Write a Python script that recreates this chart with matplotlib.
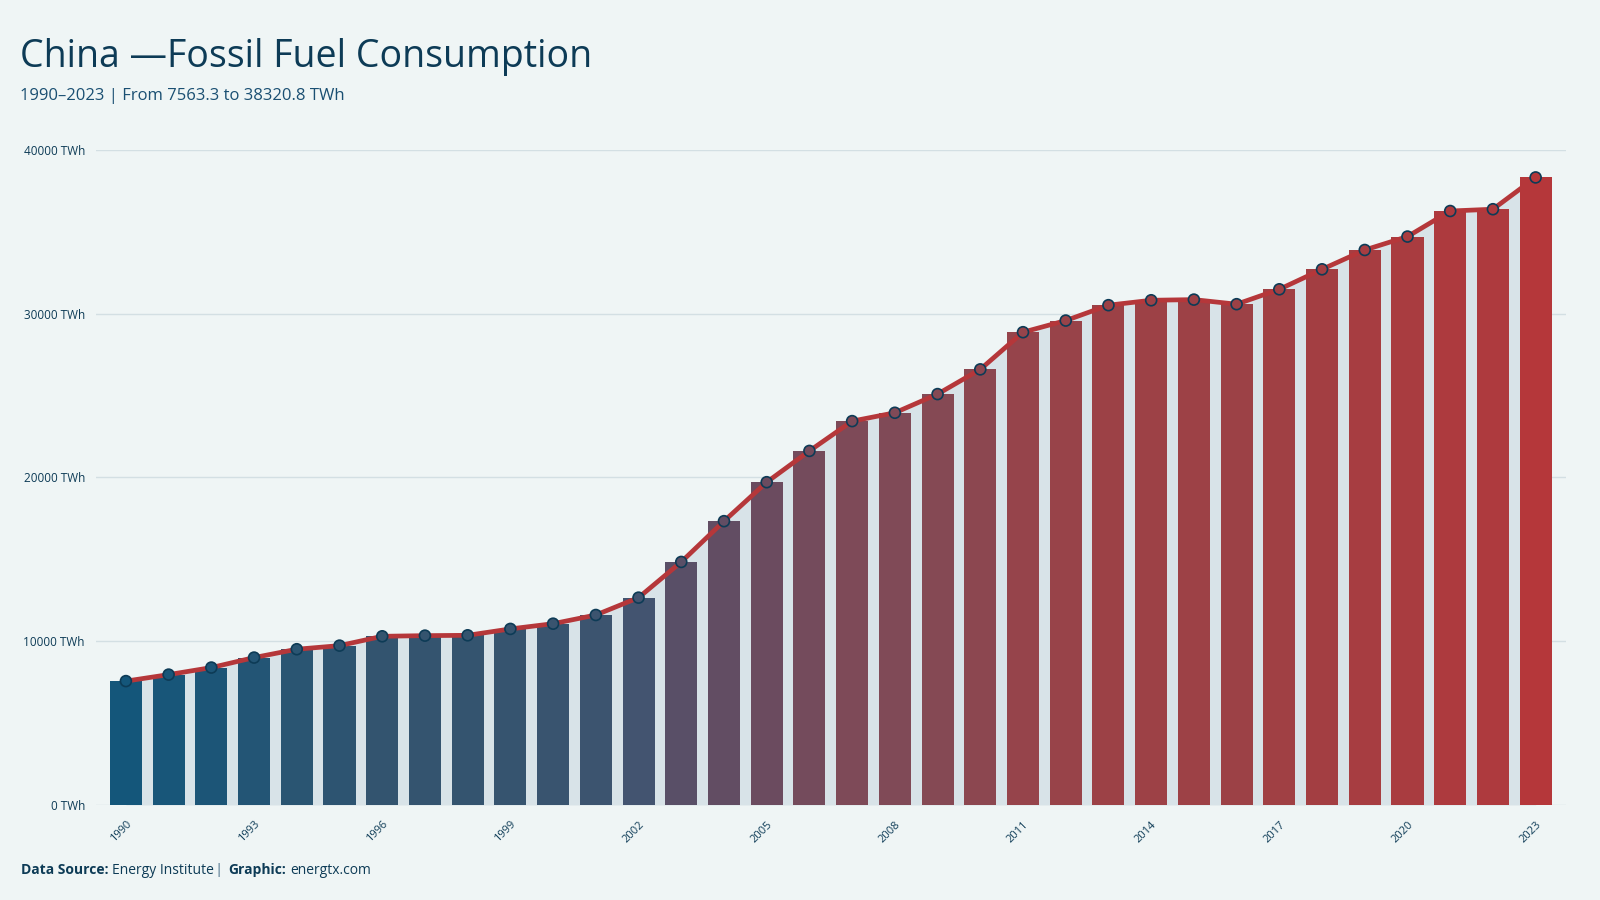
#!/usr/bin/env python3
"""
China fossil fuel consumption, 1990-2023 (bars + line)
"""

import numpy as np
import matplotlib
matplotlib.use('Agg')
import matplotlib.pyplot as plt
from matplotlib.colors import LinearSegmentedColormap

# data (TWh)
years = list(range(1990, 2024))
consumption = [7563.3, 7960, 8390, 9000, 9510, 9730, 10300, 10340, 10360, 10750,
               11070, 11600, 12660, 14840, 17330, 19710, 21620, 23440, 23950, 25090,
               26600, 28870, 29580, 30520, 30820, 30860, 30580, 31490, 32710, 33890,
               34710, 36270, 36380, 38320.8]
y_ticks = [0, 10000, 20000, 30000, 40000]
x_tick_years = list(range(1990, 2024, 3))

BG = '#eff5f5'
NAVY = '#0d3b56'
RED = '#b5373a'
AREA = '#d8e3e8'
GRID = '#d3dfe3'

plt.rcParams['font.family'] = ['Open Sans', 'DejaVu Sans']

x = np.arange(len(years))
vals = np.array(consumption)

# colour follows the value, blue -> slate -> plum -> red
cmap = LinearSegmentedColormap.from_list('bluered', [
    (0.0, '#14567a'), (0.09, '#34546f'), (0.17, '#445470'), (0.24, '#5a4f66'),
    (0.40, '#6b4b5f'), (0.53, '#804a57'), (0.69, '#95444b'), (0.78, '#a04044'),
    (0.93, '#ad3a3e'), (1.0, RED)])
t = (vals - vals.min()) / (vals.max() - vals.min())
colors = cmap(t)

fig = plt.figure(figsize=(16, 9), dpi=100, facecolor=BG)
ax = fig.add_axes([0.06, 0.1056, 0.919, 0.7278])
ax.set_facecolor(BG)

# light area under the line, then bars, then line and markers
ax.fill_between(x, 0, vals, color=AREA, linewidth=0, zorder=1)
ax.bar(x, vals, width=0.75, color=colors, zorder=2)
ax.plot(x, vals, color=RED, linewidth=3.4, zorder=3, clip_on=False,
        solid_joinstyle='round')
ax.scatter(x, vals, s=62, c=colors, edgecolors=NAVY, linewidths=1.2,
           zorder=4, clip_on=False)

ax.set_xlim(-0.7, len(years) - 1 + 0.72)
ax.set_ylim(0, 40000)

ax.set_yticks(y_ticks)
ax.set_yticklabels([f'{v} TWh' for v in y_ticks], fontsize=8.5, color=NAVY)
ax.yaxis.grid(True, color=GRID, linewidth=1)
ax.set_axisbelow(True)

ax.set_xticks([years.index(y) for y in x_tick_years])
ax.set_xticklabels([str(y) for y in x_tick_years], rotation=45, ha='right',
                   rotation_mode='anchor', fontsize=8, color=NAVY)
ax.tick_params(axis='both', length=0, pad=8)
ax.tick_params(axis='x', pad=10)
for s in ax.spines.values():
    s.set_visible(False)

# titles
fig.text(0.0125, 0.925, 'China —Fossil Fuel Consumption', fontsize=27,
         color=NAVY, va='baseline')
fig.text(0.0125, 0.889, '1990–2023 | From 7563.3 to 38320.8 TWh', fontsize=12,
         color='#1a4f72', va='baseline')

# footer
fy = 0.029
t1 = fig.text(0.013, fy, 'Data Source:', fontsize=10, fontweight='bold',
              color=NAVY, va='baseline')
fig.canvas.draw()
r = fig.canvas.get_renderer()
bb = t1.get_window_extent(r)
x0 = bb.x1 / fig.bbox.width + 0.002
t2 = fig.text(x0, fy, 'Energy Institute', fontsize=10, color=NAVY, va='baseline')
bb = t2.get_window_extent(r)
x0 = bb.x1 / fig.bbox.width + 0.001
t3 = fig.text(x0, fy, '|', fontsize=11, fontweight='bold', color='#8aa3b3', va='baseline')
bb = t3.get_window_extent(r)
x0 = bb.x1 / fig.bbox.width + 0.003
t4 = fig.text(x0, fy, 'Graphic:', fontsize=10, fontweight='bold', color=NAVY, va='baseline')
bb = t4.get_window_extent(r)
x0 = bb.x1 / fig.bbox.width + 0.003
fig.text(x0, fy, 'energtx.com', fontsize=10, color=NAVY, va='baseline')

plt.savefig('out.png', dpi=100, facecolor=BG)
